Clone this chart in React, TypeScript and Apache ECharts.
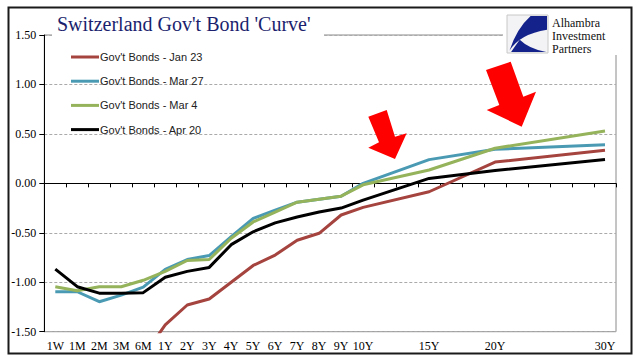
import React, { useEffect, useRef } from "react";
import * as echarts from "echarts";

const categories = [
  "1W", "1M", "2M", "3M", "6M", "1Y", "2Y", "3Y", "4Y", "5Y", "6Y", "7Y", "8Y", "9Y", "10Y",
  "", "", "15Y", "", "", "20Y", "", "", "", "", "30Y",
];

const N = null;
const jan23 = [N, N, N, N, -1.75, -1.43, -1.23, -1.17, -1.0, -0.83, -0.725, -0.575, -0.505, -0.32, -0.243, N, N, -0.085, N, N, 0.215, N, N, N, N, 0.335];
const mar27 = [-1.096, -1.096, -1.197, -1.13, -1.05, -0.87, -0.77, -0.73, -0.54, -0.355, -0.27, -0.19, -0.16, -0.13, 0.0, N, N, 0.24, N, N, 0.345, N, N, N, N, 0.39];
const mar4 = [-1.045, -1.085, -1.045, -1.045, -0.98, -0.89, -0.78, -0.77, -0.555, -0.39, -0.29, -0.19, -0.16, -0.13, -0.015, N, N, 0.135, N, N, 0.355, N, N, N, N, 0.53];
const apr20 = [-0.867, -1.045, -1.11, -1.11, -1.105, -0.95, -0.89, -0.85, -0.62, -0.49, -0.4, -0.34, -0.29, -0.25, -0.17, N, N, 0.05, N, N, 0.13, N, N, N, N, 0.24];

const seriesNames = ["Gov't Bonds - Jan 23", "Gov't Bonds - Mar 27", "Gov't Bonds - Mar 4", "Gov't Bonds - Apr 20"];
const seriesData = [jan23, mar27, mar4, apr20];
const seriesColors = ["#A5433F", "#4A9AB3", "#95B35B", "#000000"];

const titleText = "Switzerland Gov't Bond 'Curve'";
const logoLines = ["Alhambra", "Investment", "Partners"];

echarts.graphic.registerShape(
  "logoWing",
  echarts.graphic.extendPath("M100,0 L58,0 Q22,35 4,96 Q30,50 100,38 Z", {})
);
echarts.graphic.registerShape(
  "logoWedge",
  echarts.graphic.extendPath("M8,100 L98,100 Q55,92 30,66 Q18,84 8,100 Z", {})
);

export default function App() {
  const ref = useRef<HTMLDivElement>(null);
  useEffect(() => {
    if (!ref.current) return;
    const chart = echarts.init(ref.current, undefined, { renderer: "svg" });
    const serif = "'Liberation Serif', 'Times New Roman', serif";
    const sans = "'Liberation Sans', Arial, sans-serif";
    chart.setOption({
      animation: false,
      backgroundColor: "#ffffff",
      grid: {
        left: 44.3,
        right: 25,
        top: 35,
        bottom: 29.3,
        show: true,
        borderColor: "#8a8a8a",
        borderWidth: 1,
        backgroundColor: "transparent",
      },
      legend: {
        left: 66,
        top: 45,
        orient: "vertical",
        icon: "rect",
        itemWidth: 28,
        itemHeight: 3,
        itemGap: 10.2,
        textStyle: { fontFamily: sans, fontSize: 11, color: "#222", lineHeight: 14, padding: [0, 0, 0, -4] },
        data: seriesNames,
      },
      xAxis: {
        type: "category",
        data: categories,
        boundaryGap: true,
        axisLine: { lineStyle: { color: "#000", width: 1 } },
        axisTick: { show: true, interval: 0, length: 4, lineStyle: { color: "#000" } },
        axisLabel: { interval: 0, fontFamily: serif, fontSize: 12, color: "#000", margin: 8 },
        splitLine: { show: false },
      },
      yAxis: {
        type: "value",
        min: -1.5,
        max: 1.5,
        interval: 0.5,
        axisLine: { show: true, lineStyle: { color: "#000", width: 1 } },
        axisTick: { show: true, length: 5, lineStyle: { color: "#000" } },
        axisLabel: {
          fontFamily: serif,
          fontSize: 12,
          color: "#000",
          margin: 8,
          formatter: (v: number) => v.toFixed(2),
        },
        splitLine: { show: true, lineStyle: { color: "#aaaaaa", type: [3, 2], width: 1 } },
      },
      series: seriesNames.map((name, i) => ({
        name,
        type: "line",
        data: seriesData[i],
        connectNulls: true,
        showSymbol: false,
        symbol: "none",
        clip: true,
        lineStyle: { color: seriesColors[i], width: 3 },
        itemStyle: { color: seriesColors[i] },
        z: 3 + i,
        markLine:
          i === 0
            ? {
                silent: true,
                symbol: "none",
                label: { show: false },
                lineStyle: { color: "#000", width: 1, type: "solid" },
                data: [{ yAxis: 0 }],
                z: 1,
              }
            : undefined,
      })),
      graphic: [
        { type: "rect", z: 100, shape: { x: 52, y: 11, width: 272, height: 27 }, style: { fill: "#fff" } },
        {
          type: "text",
          z: 101,
          x: 57,
          y: 24,
          style: { text: titleText, font: `20px ${serif}`, fill: "#1b1f6e", verticalAlign: "middle", align: "left" },
        },
        { type: "rect", z: 100, shape: { x: 503, y: 10, width: 124, height: 45 }, style: { fill: "#fff" } },
        {
          type: "rect",
          z: 101,
          shape: { x: 507, y: 15, width: 41, height: 38 },
          style: { fill: "#f3f3f5", stroke: "#c8c8c8", lineWidth: 1 },
        },
        {
          type: "logoWing",
          z: 102,
          x: 508,
          y: 16,
          scaleX: 0.39,
          scaleY: 0.36,
          style: { fill: "#14238c" },
        },
        {
          type: "logoWedge",
          z: 102,
          x: 508,
          y: 16,
          scaleX: 0.39,
          scaleY: 0.36,
          style: { fill: "#14238c" },
        },
        ...logoLines.map((t, i) => ({
          type: "text",
          z: 102,
          x: 552,
          y: 17 + i * 13,
          style: { text: t, font: `12px ${serif}`, fill: "#111", verticalAlign: "top", align: "left" },
        })),
        {
          type: "polygon",
          z: 110,
          shape: {
            points: [
              [368.3, 116.7], [386.7, 110], [395, 136.7], [406.7, 133.3], [395, 159], [368.3, 147.7], [379, 142.3],
            ],
          },
          style: { fill: "#ff0000" },
        },
        {
          type: "polygon",
          z: 110,
          shape: {
            points: [
              [486, 70], [510.7, 61.7], [523.3, 96.7], [536, 91.7], [521.7, 126.7], [486.7, 110], [499.3, 105],
            ],
          },
          style: { fill: "#ff0000" },
        },
        {
          type: "rect",
          z: 120,
          shape: { x: 8.5, y: 7.5, width: 623, height: 346 },
          style: { fill: "none", stroke: "#1a1a1a", lineWidth: 2 },
        },
      ],
    });
    return () => chart.dispose();
  }, []);
  return (
    <div
      ref={ref}
      style={{ position: "fixed", left: 0, top: 0, width: 641, height: 361, background: "#fff" }}
    />
  );
}
